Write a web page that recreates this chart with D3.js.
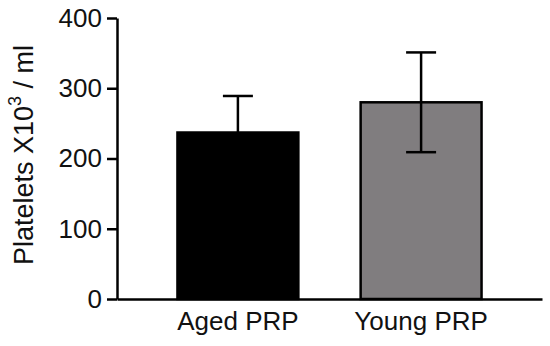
<!DOCTYPE html>
<html>
<head>
<meta charset="utf-8">
<script src="https://cdn.jsdelivr.net/npm/d3@7"></script>
<style>
    body { margin: 0; background: #fff; }
    svg text { font-family: "Liberation Sans", Arial, sans-serif; fill: #111; }
</style>
</head>
<body>
<div class="chart"></div>
<script>
// values
const categories = ["Aged PRP", "Young PRP"];
const means = [237, 280];
const errors = [52, 71];
const yTicks = [0, 100, 200, 300, 400];
const fills = ["#000000", "#807d7f"];

const width = 550, height = 346;
const margin = { top: 18, right: 8, bottom: 47, left: 117 };

const svg = d3.select(".chart").append("svg")
    .attr("width", width)
    .attr("height", height);

const x = d3.scaleBand()
    .domain(categories)
    .range([margin.left, width - margin.right])
    .paddingInner(0.34)
    .paddingOuter(0.33);

const y = d3.scaleLinear()
    .domain([0, 400])
    .range([height - margin.bottom, margin.top]);

// bars
svg.selectAll(".bar")
    .data(categories)
    .enter().append("rect")
    .attr("class", "bar")
    .attr("x", d => x(d))
    .attr("y", (d, i) => y(means[i]))
    .attr("width", x.bandwidth())
    .attr("height", (d, i) => y(0) - y(means[i]))
    .attr("fill", (d, i) => fills[i])
    .attr("stroke", "#000")
    .attr("stroke-width", 2.5);

// error bars
const capHalf = 15;
const err = svg.selectAll(".err")
    .data(categories)
    .enter().append("g")
    .attr("class", "err")
    .attr("stroke", "#000")
    .attr("stroke-width", 2.5);

err.append("line")
    .attr("x1", d => x(d) + x.bandwidth() / 2)
    .attr("x2", d => x(d) + x.bandwidth() / 2)
    .attr("y1", (d, i) => y(means[i] - errors[i]))
    .attr("y2", (d, i) => y(means[i] + errors[i]));

err.append("line")
    .attr("x1", d => x(d) + x.bandwidth() / 2 - capHalf)
    .attr("x2", d => x(d) + x.bandwidth() / 2 + capHalf)
    .attr("y1", (d, i) => y(means[i] + errors[i]))
    .attr("y2", (d, i) => y(means[i] + errors[i]));

err.append("line")
    .attr("x1", d => x(d) + x.bandwidth() / 2 - capHalf)
    .attr("x2", d => x(d) + x.bandwidth() / 2 + capHalf)
    .attr("y1", (d, i) => y(means[i] - errors[i]))
    .attr("y2", (d, i) => y(means[i] - errors[i]));

// y axis
const yAxis = svg.append("g")
    .attr("class", "y axis")
    .attr("transform", `translate(${margin.left},0)`)
    .call(d3.axisLeft(y).tickValues(yTicks).tickSize(10).tickPadding(5).tickSizeOuter(0));

yAxis.select(".domain").attr("stroke", "#000").attr("stroke-width", 2.5);
yAxis.selectAll(".tick line").attr("stroke", "#000").attr("stroke-width", 2.5);
yAxis.selectAll(".tick text")
    .attr("font-size", 26)
    .attr("fill", "#111")
    .attr("font-family", "Liberation Sans, Arial, sans-serif");

// x axis
const xAxis = svg.append("g")
    .attr("class", "x axis")
    .attr("transform", `translate(0,${y(0)})`)
    .call(d3.axisBottom(x).tickSize(0).tickPadding(13).tickSizeOuter(0));

xAxis.select(".domain").attr("stroke", "#000").attr("stroke-width", 2.5);
xAxis.selectAll(".tick text")
    .attr("font-size", 26)
    .attr("fill", "#111")
    .attr("font-family", "Liberation Sans, Arial, sans-serif");

// y label
const yLabel = svg.append("text")
    .attr("transform", `translate(33, 155) rotate(-90)`)
    .attr("text-anchor", "middle")
    .attr("font-size", 27);

yLabel.append("tspan").text("Platelets X10");
yLabel.append("tspan").text("3").attr("font-size", 18).attr("dy", -12);
yLabel.append("tspan").text(" / ml").attr("dy", 12);
</script>
</body>
</html>
